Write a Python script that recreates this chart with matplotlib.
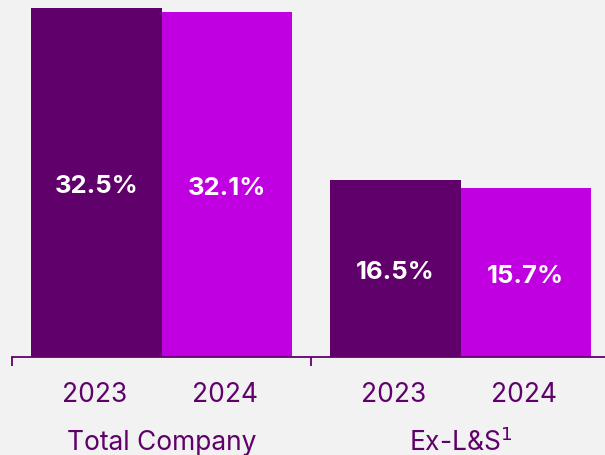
import matplotlib.pyplot as plt
import numpy as np

# data
groups = ['Total Company', 'Ex-L&S$^1$']
years = ['2023', '2024']
vals_2023 = [32.5, 16.5]
vals_2024 = [32.1, 15.7]

dark = '#5f006b'
bright = '#c000e0'
txt = '#5f006b'
bg = '#f2f2f2'

plt.rcParams['font.family'] = ['Inter', 'DejaVu Sans']

fig = plt.figure(figsize=(6.05, 4.56), dpi=100, facecolor=bg)
ax = fig.add_axes([12 / 605, 98 / 456, 593 / 605, 358 / 456])
ax.set_facecolor(bg)

px = 10.74  # pixels per percentage point

g = np.arange(len(groups))
w = 0.435
x1 = g + 0.5 - w / 2
x2 = g + 0.5 + w / 2
b1 = ax.bar(x1, vals_2023, width=w, color=dark)
b2 = ax.bar(x2, vals_2024, width=w, color=bright)

for bars, vals in [(b1, vals_2023), (b2, vals_2024)]:
    for r, v in zip(bars, vals):
        ax.text(r.get_x() + r.get_width() / 2, v / 2 - 3 / px, f'{v:.1f}%',
                ha='center', va='center', color='white',
                fontsize=18.5, fontweight='bold')

ax.set_xlim(0, 593 / 299)
ax.set_ylim(0, 358 / px)

for s in ['top', 'right', 'left']:
    ax.spines[s].set_visible(False)
ax.spines['bottom'].set_color(txt)
ax.spines['bottom'].set_linewidth(1.3)
ax.set_yticks([])

# group boundary ticks
ax.set_xticks([0, 1])
ax.set_xticklabels(['', ''])
ax.tick_params(axis='x', direction='out', length=6.5, width=1.3, color=txt)

# year labels and group labels
for i in range(len(groups)):
    ax.text(x1[i] - 2 / 299, -37 / px, years[0], ha='center', va='center',
            fontsize=19, color=txt)
    ax.text(x2[i] - 2 / 299, -37 / px, years[1], ha='center', va='center',
            fontsize=19, color=txt)
    ax.text(g[i] + 0.5, -85 / px, groups[i], ha='center', va='center',
            fontsize=19, color=txt)

fig.savefig('out.png', dpi=100, facecolor=bg)
